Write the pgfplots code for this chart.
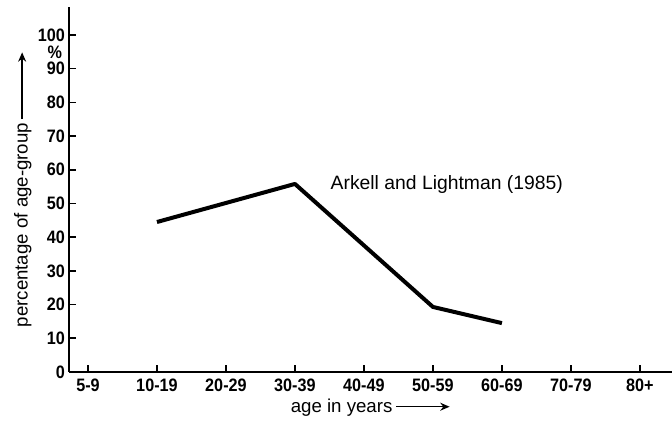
\documentclass[border=0pt]{standalone}
\usepackage{pgfplots}
\pgfplotsset{compat=1.18}
\usepackage{fontspec}
\setmainfont{Liberation Sans}
\newfontfamily\tickfam[FakeStretch=0.9]{Liberation Sans}
\usetikzlibrary{arrows.meta}
\newcommand\tickfont{\tickfam\fontsize{13.5}{15}\selectfont\bfseries}
\begin{document}
\begin{tikzpicture}
\begin{axis}[at={(0,0)},anchor=south west,scale only axis,clip=false,
  width=452.25pt,height=273.75pt,
  xmin=-0.275,xmax=8.465,ymin=0,ymax=108.3,
  axis lines=left,axis line style={-,line width=1.5pt},
  tick align=inside,major tick length=5pt,tick style={black,line width=1.2pt},
  xtick={0,...,8},
  xticklabels={5-9,10-19,20-29,30-39,40-49,50-59,60-69,70-79,80+},
  ytick={0,10,...,100},
  /pgf/number format/assume math mode=true,
  every tick label/.append style={font=\tickfont},
  xticklabel style={font=\tickfont,yshift=-2pt},
  yticklabel style={font=\tickfont,xshift=0.5pt},
  label style={font=\fontsize{14}{16}\selectfont},
  xlabel={age in years\,\tikz[baseline=-0.55ex]\draw[line width=1pt,-{Stealth[length=7pt,width=6pt]}](0,0)--(40pt,0);},
  ylabel={percentage of age-group\,\tikz[baseline=-0.55ex]\draw[line width=1pt,-{Stealth[length=7pt,width=6pt]}](0,0)--(50pt,0);},
  xlabel style={yshift=2pt},
  ylabel style={yshift=-2pt}]
\addplot[black,line width=3pt,line join=round] coordinates {(1,44.5)(3,55.8)(5,19.3)(6,14.5)};
\node[font=\fontsize{14.5}{17}\selectfont,anchor=west] at (axis cs:3.45,55.5) {Arkell and Lightman (1985)};
\node[anchor=east,font=\tickfont,inner sep=0pt,xshift=-5pt] at (axis cs:-0.275,94.9) {\%};
\end{axis}
\pgfresetboundingbox
\path[use as bounding box] (-51.75pt,-38.25pt) rectangle (452.25pt,279pt);
\end{tikzpicture}
\end{document}
